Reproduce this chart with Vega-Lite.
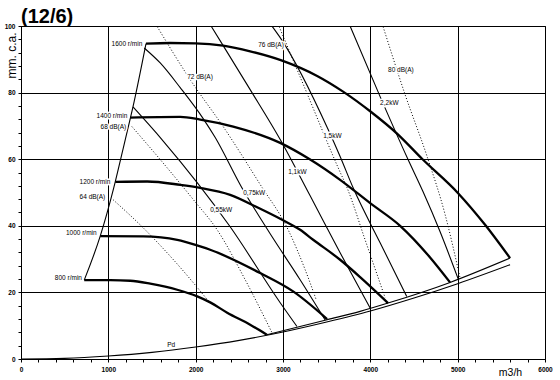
{
"$schema":"https://vega.github.io/schema/vega-lite/v6.json",
"width":524,"height":333,
"autosize":"none",
"padding":{"left":21,"top":26,"right":15,"bottom":21},
"background":"white",
"title":{"text":"(12/6)","anchor":"start","frame":"group","fontSize":20,"fontWeight":"bold","font":"Liberation Sans","color":"black","offset":0,"dy":4},
"config":{"view":{"stroke":"black","strokeWidth":1},"axis":{"domainColor":"black","tickColor":"black","labelColor":"black","titleColor":"black","labelFont":"Liberation Sans","titleFont":"Liberation Sans"}},
"datasets":{
"lines":[
{"s":"C1600","k":"speed","x":1431,"y":94.7},{"s":"C1600","k":"speed","x":1709,"y":94.9},{"s":"C1600","k":"speed","x":1995,"y":94.8},{"s":"C1600","k":"speed","x":2315,"y":94.1},{"s":"C1600","k":"speed","x":2624,"y":92.4},{"s":"C1600","k":"speed","x":2990,"y":89.6},{"s":"C1600","k":"speed","x":3391,"y":85.0},{"s":"C1600","k":"speed","x":3688,"y":80.3},{"s":"C1600","k":"speed","x":3998,"y":74.4},{"s":"C1600","k":"speed","x":4318,"y":67.4},{"s":"C1600","k":"speed","x":4589,"y":60.2},{"s":"C1600","k":"speed","x":5005,"y":49.8},{"s":"C1600","k":"speed","x":5314,"y":40.3},{"s":"C1600","k":"speed","x":5600,"y":30.3},
{"s":"C1400","k":"speed","x":1251,"y":72.5},{"s":"C1400","k":"speed","x":1823,"y":72.7},{"s":"C1400","k":"speed","x":2052,"y":71.9},{"s":"C1400","k":"speed","x":2430,"y":69.8},{"s":"C1400","k":"speed","x":2968,"y":64.9},{"s":"C1400","k":"speed","x":3311,"y":59.9},{"s":"C1400","k":"speed","x":3654,"y":53.8},{"s":"C1400","k":"speed","x":3998,"y":46.8},{"s":"C1400","k":"speed","x":4341,"y":40.0},{"s":"C1400","k":"speed","x":4684,"y":30.5},{"s":"C1400","k":"speed","x":4913,"y":23.0},
{"s":"C1200","k":"speed","x":1079,"y":53.2},{"s":"C1200","k":"speed","x":1445,"y":53.3},{"s":"C1200","k":"speed","x":1823,"y":52.3},{"s":"C1200","k":"speed","x":2052,"y":51.4},{"s":"C1200","k":"speed","x":2395,"y":49.3},{"s":"C1200","k":"speed","x":2716,"y":45.4},{"s":"C1200","k":"speed","x":2990,"y":41.8},{"s":"C1200","k":"speed","x":3196,"y":38.8},{"s":"C1200","k":"speed","x":3345,"y":35.8},{"s":"C1200","k":"speed","x":3654,"y":29.8},{"s":"C1200","k":"speed","x":3883,"y":24.6},{"s":"C1200","k":"speed","x":4203,"y":16.8},
{"s":"C1000","k":"speed","x":907,"y":36.9},{"s":"C1000","k":"speed","x":1400,"y":36.8},{"s":"C1000","k":"speed","x":1789,"y":35.8},{"s":"C1000","k":"speed","x":2052,"y":33.8},{"s":"C1000","k":"speed","x":2166,"y":32.8},{"s":"C1000","k":"speed","x":2739,"y":25.8},{"s":"C1000","k":"speed","x":3116,"y":20.3},{"s":"C1000","k":"speed","x":3505,"y":12.0},
{"s":"C800","k":"speed","x":724,"y":23.7},{"s":"C800","k":"speed","x":1022,"y":23.7},{"s":"C800","k":"speed","x":1251,"y":23.5},{"s":"C800","k":"speed","x":1480,"y":22.6},{"s":"C800","k":"speed","x":1789,"y":20.8},{"s":"C800","k":"speed","x":2018,"y":18.8},{"s":"C800","k":"speed","x":2166,"y":17.0},{"s":"C800","k":"speed","x":2361,"y":13.9},{"s":"C800","k":"speed","x":2624,"y":10.3},{"s":"C800","k":"speed","x":2815,"y":7.3},
{"s":"stall","k":"thin","x":724,"y":23.7},{"s":"stall","k":"thin","x":907,"y":36.9},{"s":"stall","k":"thin","x":1056,"y":50.8},{"s":"stall","k":"thin","x":1079,"y":53.2},{"s":"stall","k":"thin","x":1194,"y":65.9},{"s":"stall","k":"thin","x":1282,"y":75.7},{"s":"stall","k":"thin","x":1431,"y":94.7},
{"s":"bound","k":"thin","x":2815,"y":7.3},{"s":"bound","k":"thin","x":3505,"y":11.8},{"s":"bound","k":"thin","x":3883,"y":14.3},{"s":"bound","k":"thin","x":4203,"y":16.8},{"s":"bound","k":"thin","x":4913,"y":23.0},{"s":"bound","k":"thin","x":5600,"y":30.3},
{"s":"Pd","k":"thin","x":0,"y":0},{"s":"Pd","k":"thin","x":500,"y":0.2},{"s":"Pd","k":"thin","x":1000,"y":0.9},{"s":"Pd","k":"thin","x":1500,"y":2.0},{"s":"Pd","k":"thin","x":2000,"y":3.6},{"s":"Pd","k":"thin","x":2500,"y":5.6},{"s":"Pd","k":"thin","x":3000,"y":8.1},{"s":"Pd","k":"thin","x":3500,"y":11.1},{"s":"Pd","k":"thin","x":4000,"y":14.4},{"s":"Pd","k":"thin","x":4500,"y":18.3},{"s":"Pd","k":"thin","x":5000,"y":22.6},{"s":"Pd","k":"thin","x":5600,"y":28.3},
{"s":"P055","k":"thin","x":1282,"y":75.7},{"s":"P055","k":"thin","x":1614,"y":65.9},{"s":"P055","k":"thin","x":2395,"y":39.7},{"s":"P055","k":"thin","x":2968,"y":16.9},{"s":"P055","k":"thin","x":3159,"y":9.8},
{"s":"P075","k":"thin","x":1411,"y":93.4},{"s":"P075","k":"thin","x":1594,"y":88.9},{"s":"P075","k":"thin","x":1823,"y":81.5},{"s":"P075","k":"thin","x":2086,"y":72.2},{"s":"P075","k":"thin","x":2224,"y":66.5},{"s":"P075","k":"thin","x":2521,"y":51.8},{"s":"P075","k":"thin","x":2853,"y":37.6},{"s":"P075","k":"thin","x":3196,"y":23.8},{"s":"P075","k":"thin","x":3483,"y":11.7},
{"s":"P11","k":"thin","x":2178,"y":99.9},{"s":"P11","k":"thin","x":2315,"y":94.1},{"s":"P11","k":"thin","x":2624,"y":80.9},{"s":"P11","k":"thin","x":2968,"y":65.9},{"s":"P11","k":"thin","x":3311,"y":49.0},{"s":"P11","k":"thin","x":3654,"y":31.9},{"s":"P11","k":"thin","x":3998,"y":15.3},
{"s":"P15","k":"thin","x":2876,"y":99.9},{"s":"P15","k":"thin","x":2968,"y":96.5},{"s":"P15","k":"thin","x":3517,"y":68.9},{"s":"P15","k":"thin","x":3654,"y":60.8},{"s":"P15","k":"thin","x":3803,"y":51.4},{"s":"P15","k":"thin","x":4112,"y":34.9},{"s":"P15","k":"thin","x":4417,"y":18.8},
{"s":"P22","k":"thin","x":3769,"y":99.9},{"s":"P22","k":"thin","x":4112,"y":78.8},{"s":"P22","k":"thin","x":4432,"y":59.9},{"s":"P22","k":"thin","x":4604,"y":50.2},{"s":"P22","k":"thin","x":4799,"y":38.2},{"s":"P22","k":"thin","x":5005,"y":24.1},
{"s":"D64","k":"db","x":1056,"y":47.8},{"s":"D64","k":"db","x":1422,"y":38.8},{"s":"D64","k":"db","x":1766,"y":29.2},{"s":"D64","k":"db","x":2150,"y":17.3},
{"s":"D68","k":"db","x":1270,"y":69.8},{"s":"D68","k":"db","x":1594,"y":59.9},{"s":"D68","k":"db","x":1972,"y":47.9},{"s":"D68","k":"db","x":2246,"y":38.8},{"s":"D68","k":"db","x":2567,"y":23.8},{"s":"D68","k":"db","x":2876,"y":7.8},
{"s":"D72","k":"db","x":1560,"y":99.8},{"s":"D72","k":"db","x":1937,"y":83.9},{"s":"D72","k":"db","x":2338,"y":68.9},{"s":"D72","k":"db","x":2739,"y":52.4},{"s":"D72","k":"db","x":3059,"y":38.8},{"s":"D72","k":"db","x":3254,"y":26.8},{"s":"D72","k":"db","x":3380,"y":17.8},
{"s":"D76","k":"db","x":2956,"y":99.8},{"s":"D76","k":"db","x":3273,"y":79.9},{"s":"D76","k":"db","x":3632,"y":57.4},{"s":"D76","k":"db","x":3734,"y":51.4},{"s":"D76","k":"db","x":3940,"y":35.8},{"s":"D76","k":"db","x":4169,"y":18.4},
{"s":"D80","k":"db","x":4146,"y":99.8},{"s":"D80","k":"db","x":4398,"y":79.4},{"s":"D80","k":"db","x":4650,"y":60.8},{"s":"D80","k":"db","x":4856,"y":43.4},{"s":"D80","k":"db","x":5027,"y":24.4}
],
"labR":[
{"t":"1600 r/min","x":1389,"y":94.7},{"t":"1400 r/min","x":1217,"y":72.9},{"t":"68 dB(A)","x":1205,"y":69.8},{"t":"1200 r/min","x":1022,"y":53.3},{"t":"64 dB(A)","x":965,"y":48.6},{"t":"1000 r/min","x":866,"y":37.8},{"t":"800 r/min","x":698,"y":24.3}
],
"labL":[
{"t":"72 dB(A)","x":1903,"y":84.7},{"t":"76 dB(A)","x":2716,"y":94.4},{"t":"80 dB(A)","x":4203,"y":86.7},{"t":"2,2kW","x":4112,"y":76.9},{"t":"1,5kW","x":3460,"y":67.1},{"t":"1,1kW","x":3059,"y":56.3},{"t":"0,75kW","x":2544,"y":49.8},{"t":"0,55kW","x":2166,"y":44.8},{"t":"Pd","x":1675,"y":4.3}
]
},
"data":{"name":"lines"},
"encoding":{
"x":{"field":"x","type":"quantitative","scale":{"domain":[0,6000],"nice":false,"zero":true},
"axis":{"values":[0,200,400,600,800,1000,1200,1400,1600,1800,2000,2200,2400,2600,2800,3000,3200,3400,3600,3800,4000,4200,4400,4600,4800,5000,5200,5400,5600,5800,6000],"format":"d","labelExpr":"datum.value % 1000 === 0 ? datum.label : ''","labelFlush":false,"labelOverlap":false,"labelFontSize":6.5,"labelFontWeight":"bold","labelPadding":4,"tickSize":3,"grid":true,"gridColor":"black","gridWidth":1,"gridOpacity":{"condition":{"test":"datum.value % 1000 === 0","value":1},"value":0},"title":"m3/h","titleFontSize":10.5,"titleFontWeight":"normal","titleX":489,"titleY":13,"titleBaseline":"middle","titleAlign":"center"}},
"y":{"field":"y","type":"quantitative","scale":{"domain":[0,100],"nice":false,"zero":true},
"axis":{"values":[0,4,8,12,16,20,24,28,32,36,40,44,48,52,56,60,64,68,72,76,80,84,88,92,96,100],"format":"d","labelExpr":"datum.value % 20 === 0 ? datum.label : ''","labelFlush":false,"labelOverlap":false,"labelFontSize":6.5,"labelFontWeight":"bold","labelPadding":3,"tickSize":3,"grid":true,"gridColor":"black","gridWidth":1,"gridOpacity":{"condition":{"test":"datum.value % 20 === 0","value":1},"value":0},"title":"mm. c.a.","titleFontSize":12,"titleFontWeight":"normal","titleAngle":-90,"titleX":-10,"titleY":6,"titleAlign":"right","titleBaseline":"middle"}}
},
"layer":[
{"transform":[{"filter":"datum.k === 'thin'"}],"mark":{"type":"line","strokeWidth":1.1,"color":"black","interpolate":"monotone"},"encoding":{"detail":{"field":"s"}}},
{"transform":[{"filter":"datum.k === 'db'"}],"mark":{"type":"line","strokeWidth":1,"color":"black","strokeDash":[1,2],"interpolate":"monotone"},"encoding":{"detail":{"field":"s"}}},
{"transform":[{"filter":"datum.k === 'speed'"}],"mark":{"type":"line","strokeWidth":2.3,"color":"black","interpolate":"monotone"},"encoding":{"detail":{"field":"s"}}},
{"data":{"name":"labR"},"mark":{"type":"text","align":"right","baseline":"middle","fontSize":6.5,"font":"Liberation Sans","fill":"white","stroke":"white","strokeWidth":3,"strokeJoin":"round"},"encoding":{"text":{"field":"t"}}},
{"data":{"name":"labR"},"mark":{"type":"text","align":"right","baseline":"middle","fontSize":6.5,"font":"Liberation Sans","fill":"black"},"encoding":{"text":{"field":"t"}}},
{"data":{"name":"labL"},"mark":{"type":"text","align":"left","baseline":"middle","fontSize":6.5,"font":"Liberation Sans","fill":"white","stroke":"white","strokeWidth":3,"strokeJoin":"round"},"encoding":{"text":{"field":"t"}}},
{"data":{"name":"labL"},"mark":{"type":"text","align":"left","baseline":"middle","fontSize":6.5,"font":"Liberation Sans","fill":"black"},"encoding":{"text":{"field":"t"}}}
]
}
